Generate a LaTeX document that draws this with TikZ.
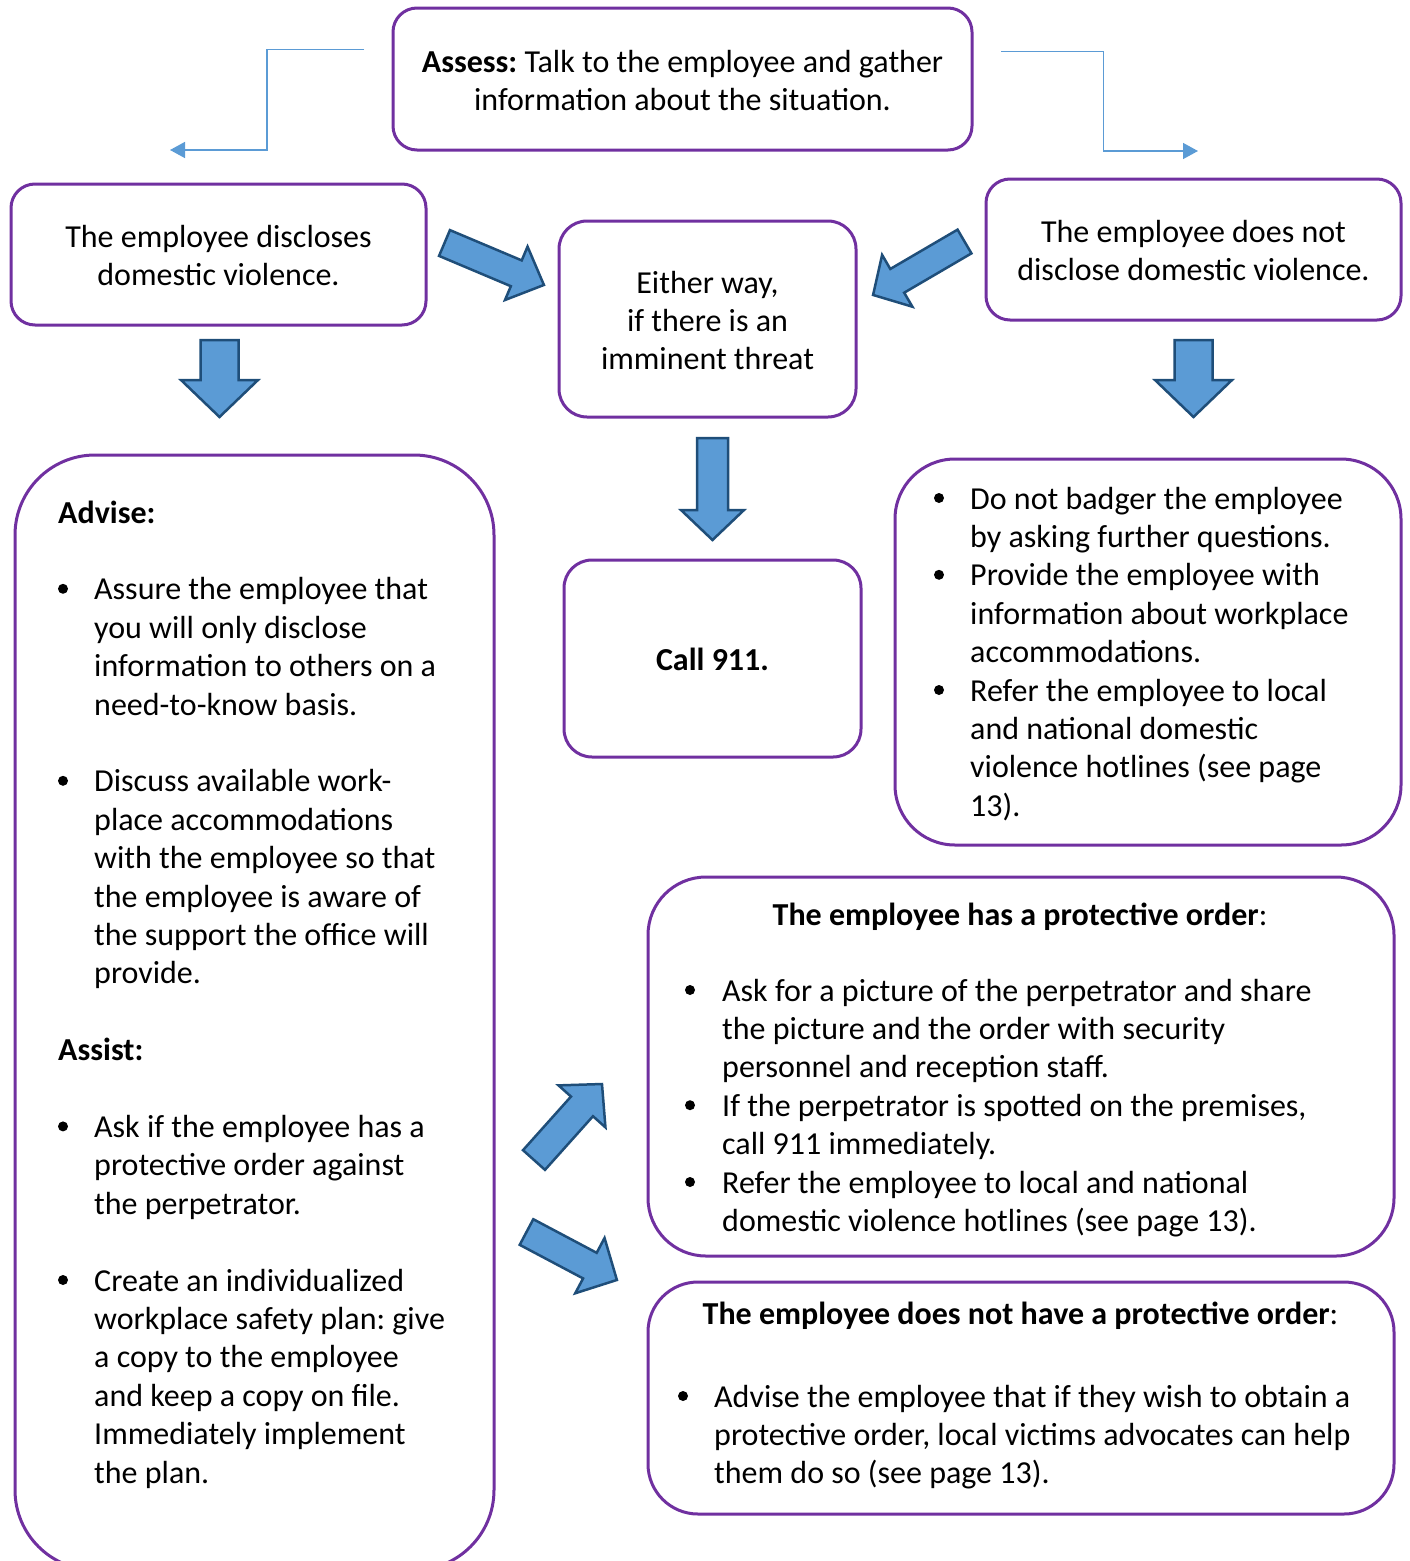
\documentclass[tikz,border=0pt]{standalone}
\usepackage{fontspec}
\setmainfont{Carlito}
\usetikzlibrary{calc,arrows.meta}
\definecolor{purp}{HTML}{7030A0}
\definecolor{lblue}{HTML}{5B9BD5}
\definecolor{dblue}{HTML}{1F4E79}
\newcommand{\blockarr}[5]{%
  \path let \p1=(#1), \p2=(#2) in \pgfextra{%
    \pgfmathsetmacro{\baA}{atan2(\y2-\y1,\x2-\x1)}%
    \pgfmathsetmacro{\baL}{veclen(\x2-\x1,\y2-\y1)}%
    \xdef\baang{\baA}\xdef\balen{\baL}\xdef\bax{\x1}\xdef\bay{\y1}};
  \begin{scope}[shift={(\bax,\bay)}, rotate=\baang, x=1pt, y=1pt]
    \draw[barrow] (0,#3/2) -- (\balen-#5,#3/2) -- (\balen-#5,#4/2) -- (\balen,0)
      -- (\balen-#5,-#4/2) -- (\balen-#5,-#3/2) -- (0,-#3/2) -- cycle;
  \end{scope}}
\begin{document}
\frenchspacing
\begin{tikzpicture}[x=1pt,y=-1pt,
  box/.style={draw=purp, line width=3pt, rectangle},
  barrow/.style={fill=lblue, draw=dblue, line width=2.5pt, line join=miter},
  thinc/.style={draw=lblue, line width=1.5pt, -{Triangle[length=15pt,width=16pt]}},
  ltxt/.style={font=\fontsize{32pt}{38.4pt}\selectfont\frenchspacing, inner sep=0pt, text width=700pt, align=flush left, anchor=north west},
  ctxt/.style={font=\fontsize{32pt}{38.4pt}\selectfont\frenchspacing, inner sep=0pt, text width=700pt, align=flush center, anchor=north},
  bul/.style={fill=black}]
\useasboundingbox (0,0) rectangle (1409,1561);

% boxes
\node[box, minimum width=579pt, minimum height=142pt, rounded corners=24pt] (assess) at (682.5,79) {};
\node[box, minimum width=415pt, minimum height=141pt, rounded corners=24pt] (disc) at (218.5,254.5) {};
\node[box, minimum width=297pt, minimum height=196pt, rounded corners=28pt] (either) at (707.5,319) {};
\node[box, minimum width=415pt, minimum height=141pt, rounded corners=24pt] (nodisc) at (1193.5,249.5) {};
\node[box, minimum width=297pt, minimum height=197pt, rounded corners=28pt] (call) at (712.5,658.5) {};
\node[box, minimum width=479pt, minimum height=1115pt, rounded corners=80pt] (advise) at (254.5,1012.5) {};
\node[box, minimum width=506pt, minimum height=386pt, rounded corners=60pt] (dont) at (1148,652) {};
\node[box, minimum width=746pt, minimum height=379pt, rounded corners=58pt] (prot) at (1021,1066.5) {};
\node[box, minimum width=746pt, minimum height=232pt, rounded corners=50pt] (noprot) at (1021,1398) {};

% thin connectors
\coordinate (lA) at (364,49.3);
\coordinate (lB) at (170,150);
\coordinate (rA) at (1001,51.7);
\coordinate (rB) at (1198,151);
\draw[thinc] (lA) -| ($(lA)!.5!(lB)$) |- (lB);
\draw[thinc] (rA) -| ($(rA)!.52!(rB)$) |- (rB);

% block arrows
\coordinate (a1t) at (444.5,243);  \coordinate (a1h) at (544,285);
\coordinate (a2t) at (964.5,241.5); \coordinate (a2h) at (873,295);
\coordinate (a3t) at (534,1160);   \coordinate (a3h) at (602,1084);
\coordinate (a4t) at (526.5,1232); \coordinate (a4h) at (617,1280);
\coordinate (a5t) at (219.5,340);  \coordinate (a5h) at (219.5,417);
\coordinate (a6t) at (1193.5,340); \coordinate (a6h) at (1193.5,417);
\coordinate (a7t) at (712.5,438);  \coordinate (a7h) at (712.5,540);
\blockarr{a1t}{a1h}{28}{58}{30}
\blockarr{a2t}{a2h}{27.5}{60}{28}
\blockarr{a3t}{a3h}{29.5}{63}{30}
\blockarr{a4t}{a4h}{29}{62.6}{30.6}
\blockarr{a5t}{a5h}{38}{77}{37}
\blockarr{a6t}{a6h}{38}{77}{37}
\blockarr{a7t}{a7h}{31}{63}{30}

% centered texts
\node[ctxt] (assessT) at (682.5,45.1) {\strut\textbf{Assess:} Talk to the employee and gather\\information about the situation.};
\node[ctxt] (discT) at (218.5,220.1) {\strut The employee discloses\\domestic violence.};
\node[ctxt] (eitherT) at (707.5,266.1) {\strut Either way,\\if there is an\\imminent threat};
\node[ctxt] (nodiscT) at (1193.5,215.1) {\strut The employee does not\\disclose domestic violence.};
\node[ctxt] (callT) at (712.5,643.1) {\strut\textbf{Call 911.}};

% advise box
\node[ltxt] (adviseH) at (58,496.1) {\strut\textbf{Advise:}};
\node[ltxt] (adv1) at (94,572.9) {\strut Assure the employee that\\you will only disclose\\information to others on a\\need-to-know basis.};
\node[ltxt] (adv2) at (94,764.9) {\strut Discuss available work-\\place accommodations\\with the employee so that\\the employee is aware of\\the support the office will\\provide.};
\node[ltxt] (assistH) at (58,1033.7) {\strut\textbf{Assist:}};
\node[ltxt] (ass1) at (94,1110.5) {\strut Ask if the employee has a\\protective order against\\the perpetrator.};
\node[ltxt] (ass2) at (94,1264.1) {\strut Create an individualized\\workplace safety plan: give\\a copy to the employee\\and keep a copy on file.\\Immediately implement\\the plan.};
\fill[bul] (63,588.8) circle (5);
\fill[bul] (63,780.8) circle (5);
\fill[bul] (63,1126.4) circle (5);
\fill[bul] (63,1280) circle (5);

% right box
\node[ltxt] (dont1) at (970,482.1) {\strut Do not badger the employee\\by asking further questions.};
\node[ltxt] (dont2) at (970,558.9) {\strut Provide the employee with\\information about workplace\\accommodations.};
\node[ltxt] (dont3) at (970,674.1) {\strut Refer the employee to local\\and national domestic\\violence hotlines (see page\\13).};
\fill[bul] (939,498) circle (5);
\fill[bul] (939,574.8) circle (5);
\fill[bul] (939,690) circle (5);

% protective order box
\node[ctxt] (protH) at (1020,898.1) {\strut\textbf{The employee has a protective order}:};
\node[ltxt] (prot1) at (722,974.1) {\strut Ask for a picture of the perpetrator and share\\the picture and the order with security\\personnel and reception staff.};
\node[ltxt] (prot2) at (722,1089.3) {\strut If the perpetrator is spotted on the premises,\\call 911 immediately.};
\node[ltxt] (prot3) at (722,1166.1) {\strut Refer the employee to local and national\\domestic violence hotlines (see page 13).};
\fill[bul] (690,990) circle (5);
\fill[bul] (690,1105.2) circle (5);
\fill[bul] (690,1182) circle (5);

% no protective order box
\node[ctxt] (noprotH) at (1020.5,1297.1) {\strut\textbf{The employee does not have a protective order}:};
\node[ltxt] (noprot1) at (714,1380.1) {\strut Advise the employee that if they wish to obtain a\\protective order, local victims advocates can help\\them do so (see page 13).};
\fill[bul] (683,1396) circle (5);
\end{tikzpicture}
\end{document}
